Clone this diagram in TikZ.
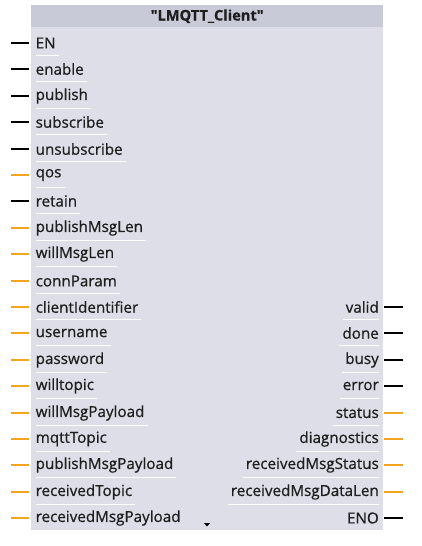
\documentclass[tikz,border=0pt]{standalone}
\usepackage{fontspec}
\setmainfont{Open Sans}[FakeBold=0.7]
\newfontfamily\pinfont{Open Sans}[FakeBold=0.7]
\definecolor{bodyc}{RGB}{221,222,231}
\definecolor{headc}{RGB}{200,202,216}
\definecolor{pinorange}{RGB}{243,165,30}
\definecolor{txt}{RGB}{30,30,30}
\begin{document}
\begin{tikzpicture}[x=1pt,y=-1pt,
  pinlabel/.style={inner sep=0pt,font=\pinfont\fontsize{15.2}{17}\selectfont,text=txt},
  sep/.style={white,line width=1.2pt},
  pinline/.style={line width=2pt}]
\useasboundingbox (0,0) rectangle (421,546);
\node[fill=bodyc,minimum width=352pt,minimum height=525pt,inner sep=0pt,anchor=north west] (box) at (31,5) {};
\node[fill=headc,minimum width=352pt,minimum height=22pt,inner sep=0pt,anchor=north west] (head) at (31,5) {};
\node[font=\bfseries\fontsize{14.6}{16}\selectfont,text=txt] (title) at (head.center) {\textquotedbl LMQTT\_Client\textquotedbl};
\foreach \lab/\col [count=\i from 0] in {EN/black,enable/black,publish/black,subscribe/black,unsubscribe/black,qos/pinorange,retain/black,publishMsgLen/pinorange,willMsgLen/pinorange,connParam/pinorange,clientIdentifier/pinorange,username/pinorange,password/pinorange,willtopic/pinorange,willMsgPayload/pinorange,mqttTopic/pinorange,publishMsgPayload/pinorange,receivedTopic/pinorange,receivedMsgPayload/pinorange}{
  \node[pinlabel,anchor=west] (L\i) at (35.5,{round(43+26.4*\i)}) {\lab};
  \coordinate (LP\i) at (11,{round(43+26.4*\i)});
  \draw[pinline,\col] (LP\i) -- ++(18,0);
  \ifnum\i<18 \draw[sep] ([yshift=-12.5pt]L\i.west) -- ([yshift=-12.5pt,xshift=3pt]L\i.east);\fi
}
\foreach \lab/\col [count=\i from 10] in {valid/black,done/black,busy/black,error/black,status/pinorange,diagnostics/pinorange,receivedMsgStatus/pinorange,receivedMsgDataLen/pinorange,ENO/black}{
  \node[pinlabel,anchor=east] (R\i) at (379,{round(43+26.4*\i)}) {\lab};
  \coordinate (RP\i) at (403,{round(43+26.4*\i)});
  \draw[pinline,\col] (RP\i) -- ++(-19,0);
  \ifnum\i<18 \draw[sep] ([yshift=-12.5pt,xshift=-3pt]R\i.west) -- ([yshift=-12.5pt]R\i.east);\fi
}
\fill[black] (204,523) -- (210,523) -- (207,526.5) -- cycle;
\end{tikzpicture}
\end{document}
